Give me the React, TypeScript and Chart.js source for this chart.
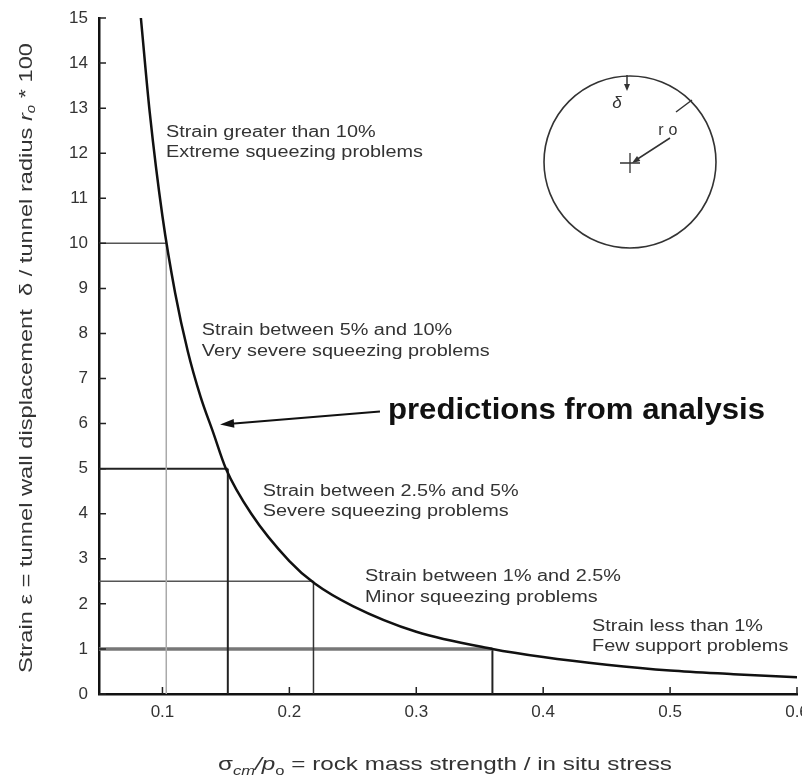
import { useEffect, useRef } from "react";
import { Chart, registerables } from "chart.js";

Chart.register(...registerables);

// ---- data ----
const ratio = [0.083, 0.09, 0.1, 0.11, 0.12, 0.13, 0.14, 0.15, 0.17, 0.2, 0.22, 0.25, 0.3, 0.36, 0.4, 0.45, 0.5, 0.55, 0.6];
const strain = [15, 12.9, 10.6, 8.9, 7.6, 6.6, 5.8, 5.0, 4.0, 2.95, 2.45, 1.95, 1.38, 1.0, 0.82, 0.65, 0.52, 0.44, 0.37];

const thresholdStrain = [10, 5, 2.5, 1];
const thresholdRatio = [0.103, 0.1515, 0.219, 0.36];

const xTicks = [0.1, 0.2, 0.3, 0.4, 0.5, 0.6];
const yTicks = [0, 1, 2, 3, 4, 5, 6, 7, 8, 9, 10, 11, 12, 13, 14, 15];

const zoneTitles = [
  "Strain greater than 10%",
  "Strain between 5% and 10%",
  "Strain between 2.5% and 5%",
  "Strain between 1% and 2.5%",
  "Strain less than 1%",
];
const zoneDescriptions = [
  "Extreme squeezing problems",
  "Very severe squeezing problems",
  "Severe squeezing problems",
  "Minor squeezing problems",
  "Few support problems",
];
const calloutText = "predictions from analysis";

// ---- layout / style (not data) ----
const FONT = "'Liberation Sans', Arial, Helvetica, sans-serif";
const X_MIN = 0.05;
const X_MAX = 0.6;
const Y_MIN = 0;
const Y_MAX = 15;
const TEXT_STRETCH = 1.24;
const LAYOUT = {
  zoneAnchors: [
    { x: 0.1028, y: 12.37 },
    { x: 0.131, y: 7.96 },
    { x: 0.179, y: 4.4 },
    { x: 0.2596, y: 2.5 },
    { x: 0.4385, y: 1.4 },
  ],
  zoneLineGap: 20.5,
  callout: { x: 0.2777, y: 6.11, width: 377 },
  arrowTail: { x: 0.2714, y: 6.27 },
  arrowTip: { x: 0.1454, y: 5.98 },
};
const guideH = [
  { color: "#555", width: 1.5 },
  { color: "#222", width: 2 },
  { color: "#555", width: 1.5 },
  { color: "#777", width: 3.5 },
];
const guideV = [
  { color: "#aaa", width: 1.5 },
  { color: "#222", width: 2 },
  { color: "#333", width: 1.5 },
  { color: "#222", width: 2 },
];

function arrowHead(ctx: CanvasRenderingContext2D, fx: number, fy: number, tx: number, ty: number, len: number, half: number) {
  const a = Math.atan2(ty - fy, tx - fx);
  const c = Math.cos(a);
  const s = Math.sin(a);
  ctx.beginPath();
  ctx.moveTo(tx, ty);
  ctx.lineTo(tx - len * c + half * s, ty - len * s - half * c);
  ctx.lineTo(tx - len * c - half * s, ty - len * s + half * c);
  ctx.closePath();
  ctx.fill();
}

type Part = { t: string; font: string; dy?: number };

function drawParts(ctx: CanvasRenderingContext2D, parts: Part[], x: number, y: number, sx: number, align: "left" | "center") {
  let total = 0;
  parts.forEach((p) => {
    ctx.font = p.font;
    total += ctx.measureText(p.t).width;
  });
  ctx.save();
  ctx.translate(x, y);
  ctx.scale(sx, 1);
  let cx = align === "center" ? -total / 2 : 0;
  parts.forEach((p) => {
    ctx.font = p.font;
    ctx.fillText(p.t, cx, p.dy || 0);
    cx += ctx.measureText(p.t).width;
  });
  ctx.restore();
  return total;
}

const overlayPlugin = {
  id: "overlay",
  afterDraw(chart: any) {
    const { ctx, chartArea: ca } = chart;
    const xs = chart.scales.x;
    const ys = chart.scales.y;
    const px = (v: number) => xs.getPixelForValue(v);
    const py = (v: number) => ys.getPixelForValue(v);
    ctx.save();

    // inward tick marks
    ctx.strokeStyle = "#222";
    ctx.lineWidth = 1.5;
    ctx.beginPath();
    yTicks.forEach((v) => {
      ctx.moveTo(ca.left, py(v));
      ctx.lineTo(ca.left + 7, py(v));
    });
    xTicks.forEach((v) => {
      ctx.moveTo(px(v), ca.bottom);
      ctx.lineTo(px(v), ca.bottom - 7);
    });
    ctx.stroke();

    // zone labels
    ctx.fillStyle = "#333";
    ctx.textBaseline = "alphabetic";
    ctx.textAlign = "left";
    const zf = `16px ${FONT}`;
    zoneTitles.forEach((t, i) => {
      const a = LAYOUT.zoneAnchors[i];
      const x0 = px(a.x);
      const y0 = py(a.y);
      drawParts(ctx, [{ t, font: zf }], x0, y0, TEXT_STRETCH, "left");
      drawParts(ctx, [{ t: zoneDescriptions[i], font: zf }], x0, y0 + LAYOUT.zoneLineGap, TEXT_STRETCH, "left");
    });

    // callout
    ctx.fillStyle = "#111";
    const cf = `bold 30px ${FONT}`;
    ctx.font = cf;
    const cw = ctx.measureText(calloutText).width;
    drawParts(ctx, [{ t: calloutText, font: cf }], px(LAYOUT.callout.x), py(LAYOUT.callout.y), LAYOUT.callout.width / cw, "left");
    const tx0 = px(LAYOUT.arrowTail.x);
    const ty0 = py(LAYOUT.arrowTail.y);
    const tx1 = px(LAYOUT.arrowTip.x);
    const ty1 = py(LAYOUT.arrowTip.y);
    ctx.strokeStyle = "#111";
    ctx.lineWidth = 2;
    ctx.beginPath();
    ctx.moveTo(tx0, ty0);
    ctx.lineTo(tx1 + 8, ty1 - 0.5);
    ctx.stroke();
    arrowHead(ctx, tx0, ty0, tx1, ty1, 14, 4.5);

    // tunnel inset
    const cx = ca.left + 531;
    const cy = ca.top + 144;
    const R = 86;
    ctx.strokeStyle = "#333";
    ctx.fillStyle = "#333";
    ctx.lineWidth = 1.6;
    ctx.beginPath();
    ctx.arc(cx, cy, R, 0, Math.PI * 2);
    ctx.stroke();
    // delta arrow
    ctx.lineWidth = 1.5;
    ctx.beginPath();
    ctx.moveTo(cx - 3, cy - R - 1);
    ctx.lineTo(cx - 3, cy - R + 12);
    ctx.stroke();
    arrowHead(ctx, cx - 3, cy - R, cx - 3, cy - R + 15, 7, 3);
    ctx.font = `italic 17px ${FONT}`;
    ctx.textAlign = "center";
    ctx.textBaseline = "middle";
    ctx.fillText("δ", cx - 13, cy - 59);
    // radius
    ctx.beginPath();
    ctx.moveTo(cx + 62, cy - 62);
    ctx.lineTo(cx + 46, cy - 50);
    ctx.moveTo(cx + 40, cy - 24);
    ctx.lineTo(cx + 6, cy - 2);
    ctx.stroke();
    arrowHead(ctx, cx + 40, cy - 24, cx + 2, cy + 1, 8, 3);
    ctx.font = `16px ${FONT}`;
    ctx.fillText("r", cx + 31, cy - 31);
    ctx.fillText("o", cx + 43, cy - 31);
    // centre cross
    ctx.lineWidth = 1.3;
    ctx.beginPath();
    ctx.moveTo(cx - 10, cy + 1);
    ctx.lineTo(cx + 10, cy + 1);
    ctx.moveTo(cx, cy - 9);
    ctx.lineTo(cx, cy + 11);
    ctx.stroke();

    // y axis title
    ctx.fillStyle = "#333";
    ctx.textAlign = "left";
    ctx.textBaseline = "middle";
    const yParts: Part[] = [
      { t: "Strain ε = tunnel wall displacement  δ / tunnel radius ", font: `19px ${FONT}` },
      { t: "r", font: `italic 19px ${FONT}` },
      { t: "o", font: `italic 12px ${FONT}`, dy: 5 },
      { t: " * 100", font: `19px ${FONT}` },
    ];
    let yw = 0;
    yParts.forEach((p) => {
      ctx.font = p.font;
      yw += ctx.measureText(p.t).width;
    });
    ctx.save();
    ctx.translate(19, 350);
    ctx.rotate(-Math.PI / 2);
    drawParts(ctx, yParts, 0, 0, 630 / yw, "center");
    ctx.restore();

    // x axis title
    ctx.textBaseline = "alphabetic";
    const xParts: Part[] = [
      { t: "σ", font: `19px ${FONT}` },
      { t: "cm", font: `italic 13px ${FONT}`, dy: 5 },
      { t: "/", font: `italic 19px ${FONT}` },
      { t: "p", font: `italic 19px ${FONT}` },
      { t: "o", font: `13px ${FONT}`, dy: 5 },
      { t: " = rock mass strength / in situ stress", font: `19px ${FONT}` },
    ];
    let xw = 0;
    xParts.forEach((p) => {
      ctx.font = p.font;
      xw += ctx.measureText(p.t).width;
    });
    drawParts(ctx, xParts, 210, 762, 454 / xw, "left");

    ctx.restore();
  },
};

export default function App() {
  const ref = useRef<HTMLCanvasElement | null>(null);

  useEffect(() => {
    if (!ref.current) return;
    const curve = {
      label: "predictions from analysis",
      data: ratio.map((r, i) => ({ x: r, y: strain[i] })),
      borderColor: "#111",
      borderWidth: 2.5,
      pointRadius: 0,
      fill: false,
      cubicInterpolationMode: "monotone" as const,
    };
    const guides: any[] = [];
    thresholdStrain.forEach((s, i) => {
      guides.push({
        label: `h${i}`,
        data: [
          { x: X_MIN, y: s },
          { x: thresholdRatio[i], y: s },
        ],
        borderColor: guideH[i].color,
        borderWidth: guideH[i].width,
        pointRadius: 0,
        borderCapStyle: "butt",
      });
      guides.push({
        label: `v${i}`,
        data: [
          { x: thresholdRatio[i], y: Y_MIN },
          { x: thresholdRatio[i], y: s },
        ],
        borderColor: guideV[i].color,
        borderWidth: guideV[i].width,
        pointRadius: 0,
        borderCapStyle: "butt",
      });
    });

    const zeroPad = (s: any) => {
      s.paddingTop = 0;
      s.paddingBottom = 0;
      s.paddingLeft = 0;
      s.paddingRight = 0;
    };

    const chart = new Chart(ref.current, {
      type: "line",
      data: { datasets: [curve, ...guides] as any },
      options: {
        animation: false,
        responsive: false,
        events: [],
        layout: { autoPadding: false, padding: { top: 10, right: 13, bottom: 0, left: 0 } } as any,
        plugins: { legend: { display: false }, tooltip: { enabled: false } },
        scales: {
          x: {
            type: "linear",
            min: X_MIN,
            max: X_MAX,
            grid: { display: false, drawTicks: false },
            border: { display: true, color: "#111", width: 2.5 },
            afterBuildTicks: (s: any) => {
              s.ticks = xTicks.map((v) => ({ value: v }));
            },
            afterFit: (s: any) => {
              s.height = 87;
              zeroPad(s);
            },
            ticks: {
              font: { family: FONT, size: 17 },
              color: "#333",
              padding: 8,
              maxRotation: 0,
              autoSkip: false,
              callback: (v: any) => Number(v).toFixed(1),
            },
          },
          y: {
            type: "linear",
            min: Y_MIN,
            max: Y_MAX,
            grid: { display: false, drawTicks: false },
            border: { display: true, color: "#111", width: 2.5 },
            afterBuildTicks: (s: any) => {
              s.ticks = yTicks.map((v) => ({ value: v }));
            },
            afterFit: (s: any) => {
              s.width = 91;
              zeroPad(s);
            },
            ticks: {
              font: { family: FONT, size: 17 },
              color: "#333",
              padding: 11,
              autoSkip: false,
              callback: (v: any) => String(v),
            },
          },
        },
      },
      plugins: [overlayPlugin],
    });
    return () => chart.destroy();
  }, []);

  return (
    <div style={{ width: 802, height: 773 }}>
      <canvas ref={ref} width={802} height={773} style={{ display: "block", width: 802, height: 773 }} />
    </div>
  );
}
